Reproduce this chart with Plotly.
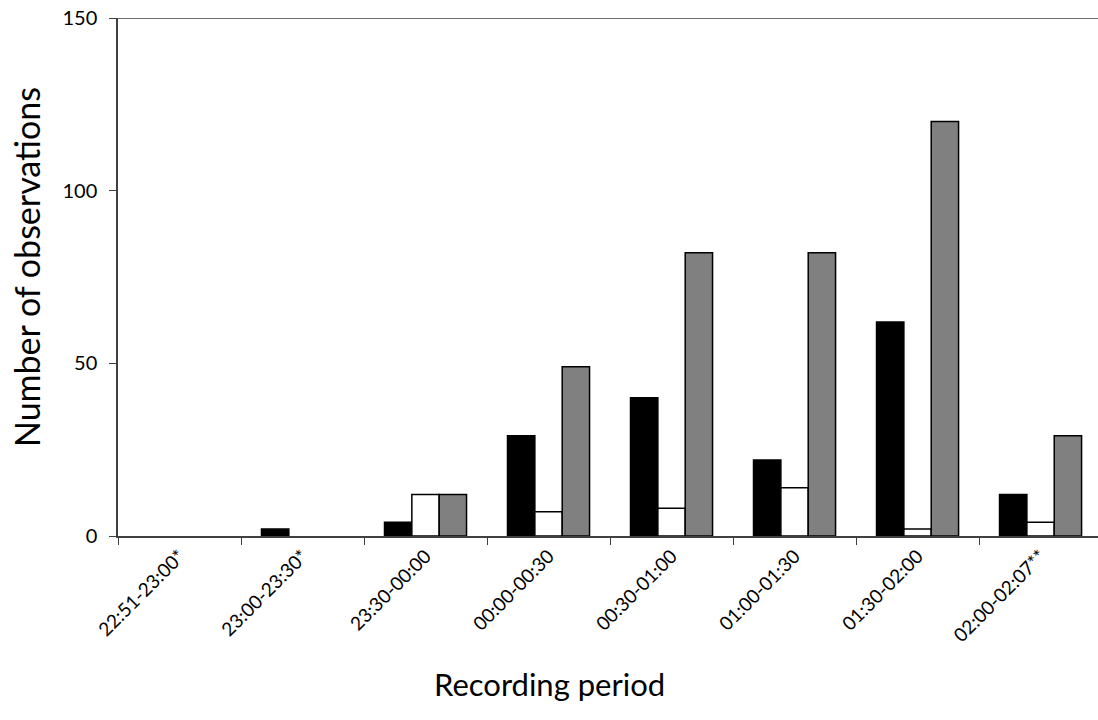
import plotly.graph_objects as go

categories = ["22:51-23:00*", "23:00-23:30*", "23:30-00:00", "00:00-00:30",
              "00:30-01:00", "01:00-01:30", "01:30-02:00", "02:00-02:07**"]
series_black = [0, 2, 4, 29, 40, 22, 62, 12]
series_white = [0, 0, 12, 7, 8, 14, 2, 4]
series_gray = [0, 0, 12, 49, 82, 82, 120, 29]
y_ticks = [0, 50, 100, 150]

FONT = "Lato"
AX = "#404040"

fig = go.Figure()
for vals, col in [(series_black, "#000000"), (series_white, "#ffffff"), (series_gray, "#808080")]:
    fig.add_trace(go.Bar(
        x=categories, y=vals,
        marker=dict(color=col, line=dict(color="#000000", width=[1.5 if v else 0 for v in vals])),
        showlegend=False))

fig.update_layout(
    width=1098, height=720,
    margin=dict(l=118, r=0, t=18, b=184),
    plot_bgcolor="white", paper_bgcolor="white",
    barmode="group", bargap=0.333, bargroupgap=0,
    font=dict(family=FONT, color="#000000"),
    xaxis=dict(range=[-0.5, 7.467], tickson="boundaries", ticks="outside", ticklen=7, tickwidth=1.3,
               tickcolor=AX, showline=True, linecolor=AX, linewidth=1.5,
               tickangle=-45, tickfont=dict(size=19, family=FONT), showgrid=False),
    yaxis=dict(range=[0, 150], tickvals=y_ticks, ticks="outside", ticklen=7, tickwidth=1.3,
               tickcolor=AX, showline=True, linecolor=AX, linewidth=1.5,
               tickfont=dict(size=20, family=FONT), showgrid=False, zeroline=False, ticklabelstandoff=8),
    shapes=[dict(type="line", xref="paper", yref="y", x0=0, x1=1, y0=150, y1=150,
                 line=dict(color=AX, width=1.5))],
    annotations=[
        dict(text="Recording period", xref="paper", yref="paper", x=(549 - 118) / 980, y=-(684 - 536) / 518,
             showarrow=False, font=dict(size=31, family=FONT), xanchor="center", yanchor="middle"),
        dict(text="Number of observations", xref="paper", yref="paper", x=-(118 - 26) / 980,
             y=(536 - 267) / 518,
             showarrow=False, font=dict(size=34, family=FONT), textangle=-90, xanchor="center", yanchor="middle"),
    ],
)

fig.write_html("out.html")
